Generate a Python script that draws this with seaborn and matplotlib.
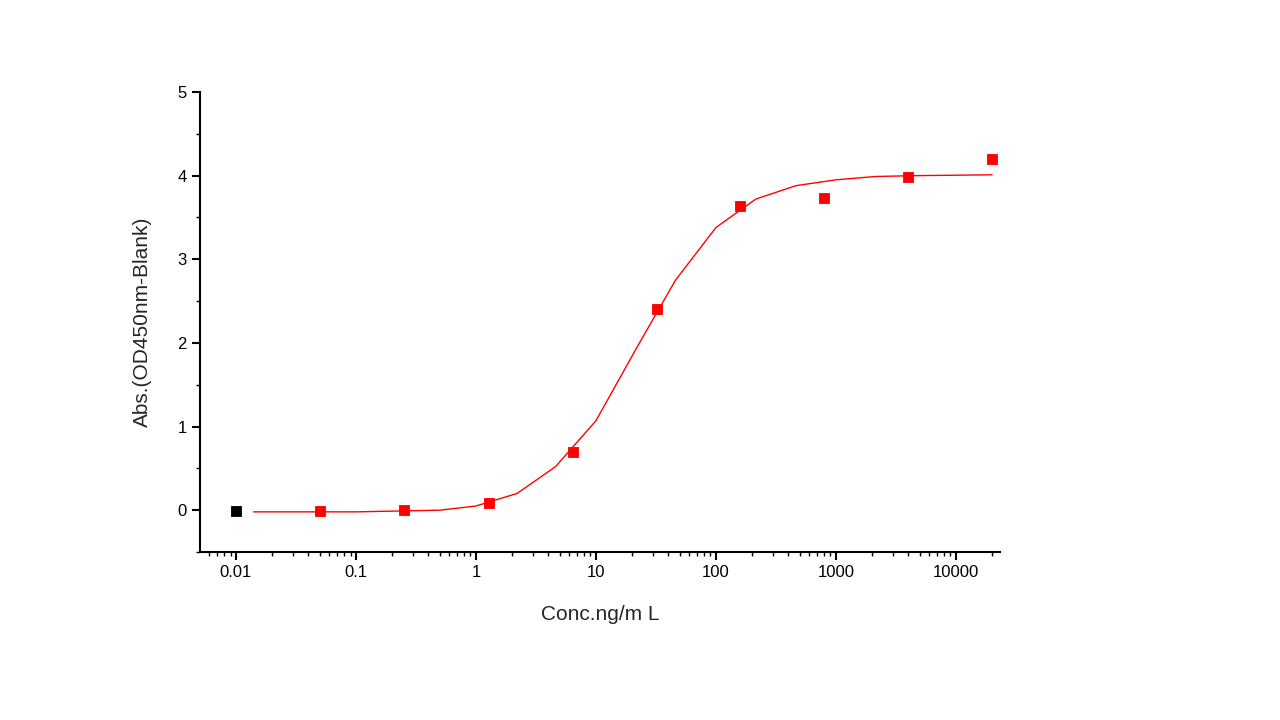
import numpy as np
import pandas as pd
import matplotlib
matplotlib.use('Agg')
import matplotlib.pyplot as plt
import seaborn as sns
from matplotlib.ticker import LogLocator, FixedLocator, FuncFormatter

# measured points
conc = [0.05, 0.25, 1.28, 6.4, 32, 160, 800, 4000, 20000]
absorb = [-0.01, 0.0, 0.08, 0.69, 2.4, 3.64, 3.73, 3.98, 4.2]
blank_conc = [0.01]
blank_abs = [-0.01]

# fitted curve
fit_x = [0.014, 0.1, 0.5, 1.0, 2.2, 4.6, 10, 22, 46, 100, 215, 464, 1000, 2150, 4640, 20000]
fit_y = [-0.02, -0.02, 0.0, 0.05, 0.2, 0.52, 1.07, 1.95, 2.75, 3.38, 3.72, 3.88, 3.95, 3.99, 4.0, 4.01]

sns.set_style('ticks')
plt.rcParams['font.family'] = ['Liberation Sans', 'DejaVu Sans']

fig = plt.figure(figsize=(12.8, 7.2), dpi=100)
ax = fig.add_axes([200 / 1280, 1 - 552 / 720, 800 / 1280, 460 / 720])

sns.lineplot(x=fit_x, y=fit_y, ax=ax, color='red', linewidth=1)
sns.scatterplot(x=conc, y=absorb, ax=ax, color='red', marker='s', s=60, edgecolor='red')
sns.scatterplot(x=blank_conc, y=blank_abs, ax=ax, color='black', marker='s', s=60, edgecolor='black')

ax.set_xscale('log')
ax.set_xlim(10 ** -2.3, 10 ** 4.367)
ax.set_ylim(-0.5, 5)
ax.set_yticks([0, 1, 2, 3, 4, 5])
ax.xaxis.set_major_locator(FixedLocator([0.01, 0.1, 1, 10, 100, 1000, 10000]))
ax.xaxis.set_major_formatter(FuncFormatter(lambda v, p: f'{v:g}'))
ax.xaxis.set_minor_locator(LogLocator(base=10, subs=np.arange(2, 10), numticks=20))
ax.yaxis.set_minor_locator(FixedLocator(np.arange(-0.5, 5.01, 0.5)))

for s in ['top', 'right']:
    ax.spines[s].set_visible(False)
for s in ['left', 'bottom']:
    ax.spines[s].set_linewidth(1.5)
    ax.spines[s].set_color('black')
ax.tick_params(which='major', direction='out', length=6, width=1.5, labelsize=12, colors='black')
ax.tick_params(which='minor', direction='out', length=3, width=1, colors='black')

ax.set_xlabel('Conc.ng/m L', fontsize=15, labelpad=18)
ax.set_ylabel('Abs.(OD450nm-Blank)', fontsize=15, labelpad=18)

fig.savefig('out.png', dpi=100)
